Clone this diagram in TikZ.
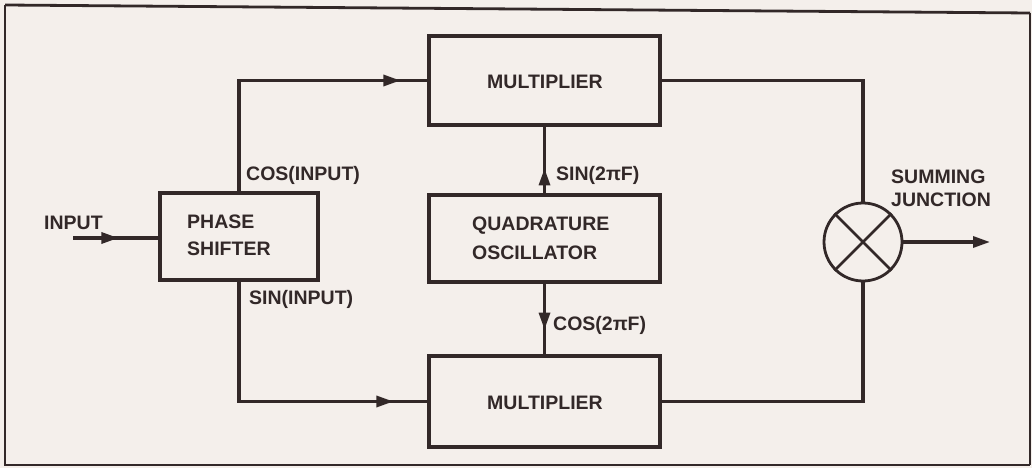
\documentclass[tikz,border=0pt]{standalone}
\usepackage{fontspec}
\setmainfont{Liberation Sans}
\usetikzlibrary{arrows.meta,decorations.markings}
\definecolor{bg}{RGB}{244,239,235}
\definecolor{ink}{RGB}{50,40,40}
\begin{document}
\begin{tikzpicture}[x=1pt,y=-1pt,
  blk/.style={draw=ink,line width=3.2pt,minimum width=231pt,inner sep=0pt},
  lbl/.style={anchor=west,inner sep=0pt,text=ink,font=\fontsize{19.5}{23}\selectfont\bfseries},
  wire/.style={draw=ink,line width=3.2pt},
  arrowat/.style={postaction={decorate},decoration={markings,mark=at position #1 with {\arrow{Triangle[length=17pt,width=11pt]}}}}
]
\fill[bg] (0,0) rectangle (1032,468);
\useasboundingbox (0,0) rectangle (1032,468);
% frame
\draw[ink,line width=2.8pt] (5,5) -- (1030,13);
\draw[ink,line width=2.8pt] (5,5) -- (5,465) -- (1030,465);
\draw[ink,line width=2.8pt] (1030,13) -- (1030,465);
% blocks
\node[blk,minimum width=158pt,minimum height=87pt] (ps) at (239,236.5) {};
\node[blk,minimum height=89pt] (m1) at (544.5,80.5) {};
\node[blk,minimum height=87pt] (q) at (544.5,238.5) {};
\node[blk,minimum height=91pt] (m2) at (544.5,401.5) {};
\node[draw=ink,line width=2.8pt,circle,minimum size=78pt,inner sep=0pt] (sj) at (863,242) {};
\draw[ink,line width=2.8pt] (sj.north west) -- (sj.south east) (sj.north east) -- (sj.south west);
% texts
\node[lbl] (tin) at (44,223) {INPUT};
\node[lbl] (tps1) at (187,222) {PHASE};
\node[lbl] (tps2) at (187,249) {SHIFTER};
\node[lbl,anchor=center] (tm1) at (545,82) {MULTIPLIER};
\node[lbl,anchor=center] (tm2) at (545,403) {MULTIPLIER};
\node[lbl] (tq1) at (472,226) {QUADRATURE};
\node[lbl] (tq2) at (472,253) {OSCILLATOR};
\node[lbl] (tcos) at (246,175) {COS(INPUT)};
\node[lbl] (tsin) at (249,299) {SIN(INPUT)};
\node[lbl] (ts2) at (556,175) {SIN(2πF)};
\node[lbl] (tc2) at (553,325) {COS(2πF)};
\node[lbl] (tsj1) at (891,177) {SUMMING};
\node[lbl] (tsj2) at (891,200) {JUNCTION};
% connectors
\coordinate (inp) at (73,238);
\coordinate (out) at (990,242);
\draw[wire,arrowat=-40pt] (inp) -- (inp -| ps.west);
\draw[wire,arrowat=-27pt] (ps.north) |- (m1.west);
\draw[wire,arrowat=-34pt] (ps.south) |- (m2.west);
\draw[wire,arrowat=25pt] (q.north) -- (m1.south);
\draw[wire,arrowat=46pt] (q.south) -- (m2.north);
\draw[wire] (m1.east) -| (sj.north);
\draw[wire] (m2.east) -| (sj.south);
\draw[wire,-{Triangle[length=17pt,width=11pt]}] (sj.east) -- (out);
\end{tikzpicture}
\end{document}
